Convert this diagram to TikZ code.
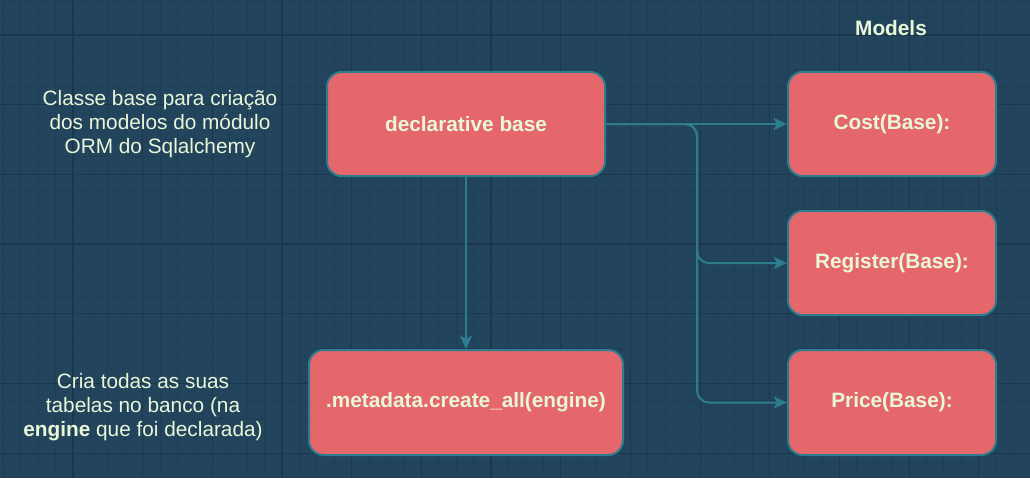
\documentclass[tikz,border=0pt]{standalone}
\usepackage{fontspec}
\setmainfont{Liberation Sans}
\usetikzlibrary{arrows.meta}
\definecolor{bg}{HTML}{23445D}
\definecolor{gridminor}{HTML}{1F3F55}
\definecolor{gridmajor}{HTML}{1A374C}
\definecolor{boxfill}{HTML}{E5676B}
\definecolor{edgecol}{HTML}{2E7D8F}
\definecolor{txt}{HTML}{E9F7D9}
\begin{document}
\begin{tikzpicture}[x=0.75pt,y=-0.75pt,
  box/.style={draw=edgecol,line width=1.5pt,fill=boxfill,rounded corners=11pt,
    text=txt,font=\fontsize{15.6}{18}\selectfont\bfseries,inner sep=0pt},
  lbl/.style={text=txt,font=\fontsize{15.6}{18}\selectfont,align=center,inner sep=0pt},
  conn/.style={draw=edgecol,line width=1.5pt,rounded corners=9pt,
    -{Stealth[length=10pt,width=9pt,inset=2.5pt]}}]
\fill[bg] (0,0) rectangle (1030,478);
\useasboundingbox (0,0) rectangle (1030,478);
\foreach \i in {0,...,59} {
  \pgfmathtruncatemacro{\m}{mod(\i,4)}
  \ifnum\m=0 \draw[gridmajor,line width=0.9pt] ({3.3+17.42*\i},0) -- ({3.3+17.42*\i},478);
  \else \draw[gridminor,line width=0.75pt] ({3.3+17.42*\i},0) -- ({3.3+17.42*\i},478); \fi
}
\foreach \i in {0,...,28} {
  \pgfmathtruncatemacro{\m}{mod(\i,4)}
  \ifnum\m=2 \draw[gridmajor,line width=0.9pt] (0,{0.2+17.42*\i}) -- (1030,{0.2+17.42*\i});
  \else \draw[gridminor,line width=0.75pt] (0,{0.2+17.42*\i}) -- (1030,{0.2+17.42*\i}); \fi
}
\node[box,minimum width=278*0.75pt,minimum height=104*0.75pt] (db) at (466,124) {declarative base};
\node[box,minimum width=314*0.75pt,minimum height=105*0.75pt] (meta) at (466,402.5) {.metadata.create\_all(engine)};
\node[box,minimum width=208*0.75pt,minimum height=104*0.75pt] (cost) at (892,124) {Cost(Base):};
\node[box,minimum width=208*0.75pt,minimum height=104*0.75pt] (reg) at (892,263) {Register(Base):};
\node[box,minimum width=208*0.75pt,minimum height=105*0.75pt] (price) at (892,402.5) {Price(Base):};
\node[text=txt,font=\fontsize{15.6}{18}\selectfont\bfseries,inner sep=0pt] (models) at (891,28) {Models};
\node[lbl] (t1) at (160,124) {Classe base para criação\\dos modelos do módulo\\ORM do Sqlalchemy};
\node[lbl] (t2) at (143,407) {Cria todas as suas\\tabelas no banco (na\\\textbf{engine} que foi declarada)};
\coordinate (split) at (697,124);
\draw[conn] (db.east) -- (cost.west);
\draw[conn] (db.east) -- (split) |- (reg.west);
\draw[conn] (db.east) -- (split) |- (price.west);
\draw[conn] (db.south) -- (meta.north);
\end{tikzpicture}
\end{document}
